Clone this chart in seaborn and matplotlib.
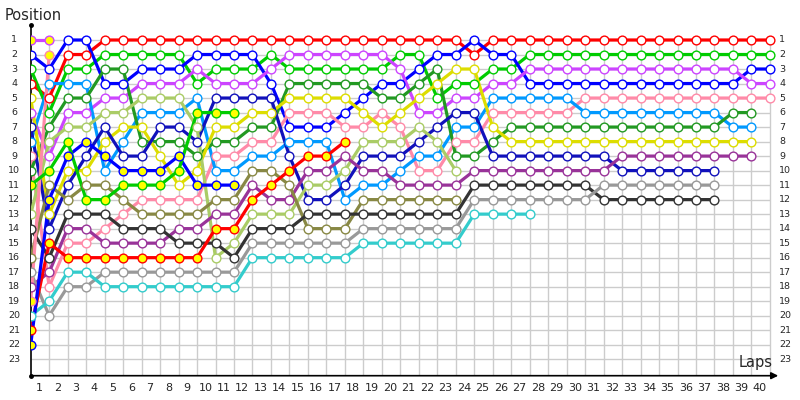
import matplotlib
matplotlib.use('Agg')
import matplotlib.pyplot as plt
import seaborn as sns
import pandas as pd

# positions per lap, index 0 = start
red = [4, 5, 2, 2] + [1] * 20 + [2] + [1] * 16
green = [3, 6, 3, 3, 2, 2, 2, 2, 2, 4, 3, 3, 3, 2, 3, 3, 3, 3, 3, 3, 2, 2, 5, 4, 4, 3, 3] + [2] * 14
blue = [2, 3, 1, 1, 4, 4, 3, 3, 3, 2, 2, 2, 2, 4, 7, 7, 7, 6, 5, 4, 4, 3, 2, 2, 1, 2, 2] + [4] * 12 + [3, 3]
violet = [6, 9, 6, 6, 5, 5, 4, 4, 4, 3, 4, 4, 4, 3, 2, 2, 2, 2, 2, 2, 3, 6, 6, 5, 5, 4, 4] + [3] * 12 + [4, 4]
pink = [9, 18, 15, 15, 14, 13, 12, 12, 12, 12, 9, 9, 8, 8, 6, 6, 6, 7, 7, 6, 7, 10, 10, 8, 8, 6, 6, 6, 6, 6] + [5] * 11
lblue = [8, 4, 4, 4, 10, 8, 6, 6, 6, 5, 10, 10, 9, 9, 8, 8, 8, 12, 11, 11, 10, 9, 9, 7, 7, 5, 5, 5, 5, 5] + [6] * 8 + [7, 7]
dgreen = [10, 7, 5, 5, 3, 3, 8, 8, 8, 9, 8, 8, 7, 7, 4, 4, 4, 4, 4, 5, 5, 4, 3, 9, 9, 8] + [7] * 12 + [6, 6]
yellow = [5, 13, 10, 10, 8, 7, 7, 9, 11, 10, 7, 7, 6, 6, 5, 5, 5, 5, 6, 7, 6, 5, 4, 3, 3, 7] + [8] * 14
indigo = [7, 14, 11, 9, 7, 9, 9, 7, 7, 8, 5, 5, 5, 5, 9, 12, 12, 11, 9, 9, 9, 8, 7, 6, 6] + [9] * 7 + [10] * 6
lgreen = [13, 8, 7, 7, 6, 6, 5, 5, 5, 7, 16, 15, 13, 13, 13, 11, 11, 10, 8, 8, 8, 7, 8, 10]
purple = [18, 17, 14, 14, 15, 15, 15, 15, 14, 14, 13, 13, 11, 12, 12, 10, 10, 9, 10, 10, 11, 11, 11, 11] + [10] * 8 + [9] * 8
olive = [16, 11, 12, 11, 11, 12, 13, 13, 13, 13, 12, 12, 10, 10, 11, 14, 14, 14, 12, 12, 12, 12, 12, 12]
dgray = [14, 16, 13, 13, 13, 14, 14, 14, 15, 15, 15, 16, 14, 14, 14] + [13] * 9 + [11] * 7 + [12] * 7
gray = [17, 20, 18, 18] + [17] * 8 + [15] * 6 + [14] * 6 + [12] * 7 + [11] * 7
teal = [20, 19, 17, 17] + [18] * 8 + [16] * 6 + [15] * 6 + [13] * 4
violet_y = [1, 1]
pink_y = [19, 2]
red_y = [21, 15, 16, 16, 16, 16, 16, 16, 16, 16, 14, 14, 12, 11, 10, 9, 9, 8]
blue_y = [22, 12, 9, 8, 9, 10, 10, 10, 9, 11, 11, 11]
green_y = [11, 10, 8, 12, 12, 11, 11, 11, 10, 6, 6, 6]

drivers = {
    'red': (red, '#ff0000', 'white'),
    'green': (green, '#00cc00', 'white'),
    'blue': (blue, '#0000ff', 'white'),
    'violet': (violet, '#cc44ff', 'white'),
    'pink': (pink, '#ff8aa8', 'white'),
    'lblue': (lblue, '#0099ff', 'white'),
    'dgreen': (dgreen, '#229922', 'white'),
    'yellow': (yellow, '#dddd00', 'white'),
    'indigo': (indigo, '#1111bb', 'white'),
    'lgreen': (lgreen, '#aacc66', 'white'),
    'purple': (purple, '#993399', 'white'),
    'olive': (olive, '#888844', 'white'),
    'dgray': (dgray, '#333333', 'white'),
    'gray': (gray, '#999999', 'white'),
    'teal': (teal, '#33cccc', 'white'),
    'violet_y': (violet_y, '#cc44ff', '#ffff00'),
    'pink_y': (pink_y, '#ff8aa8', '#ffff00'),
    'red_y': (red_y, '#ff0000', '#ffff00'),
    'blue_y': (blue_y, '#0000ff', '#ffff00'),
    'green_y': (green_y, '#00cc00', '#ffff00'),
}

n_laps = 40
n_pos = 23

rows = []
for name, (pos, col, fill) in drivers.items():
    for lap, p in enumerate(pos):
        rows.append({'driver': name, 'lap': lap, 'pos': p})
df = pd.DataFrame(rows)

sns.set_style('white')
plt.rcParams['font.family'] = ['DejaVu Sans']

fig = plt.figure(figsize=(8, 4), dpi=100)
# lap 0 at x=30.7px, 18.48 px per lap; pos 1 at y=40px, 14.51 px per position
ax = fig.add_axes([30.7 / 800, (400 - 375.7) / 400, (18.48 * 41.0) / 800, 355.7 / 400])
ax.set_xlim(0, 41.0)
ybot = 1 + (375.7 - 40) / 14.51
ax.set_ylim(ybot, ybot - 355.7 / 14.51)
for s in ax.spines.values():
    s.set_visible(False)
ax.set_xticks([])
ax.set_yticks([])

# grid
ax.hlines(range(1, n_pos + 1), 0, n_laps, color='#cccccc', lw=1, zorder=0)
ax.vlines(range(1, n_laps + 1), 1, ybot, color='#cccccc', lw=1, zorder=0)

# axes lines
ax.plot([0, 0], [ybot, 0.0], color='black', lw=1.2, zorder=1, clip_on=False)
ax.plot([0], [0.0], marker='o', ms=2.5, color='black', clip_on=False)
ax.plot([0], [ybot], marker='o', ms=2.5, color='black', clip_on=False)
ax.annotate('', xy=(40.45, ybot), xytext=(0, ybot),
            arrowprops=dict(arrowstyle='-|>', color='black', lw=1.2,
                            mutation_scale=10, shrinkA=0, shrinkB=0),
            annotation_clip=False)

for name, (pos, col, fill) in drivers.items():
    sub = df[df['driver'] == name]
    sns.lineplot(data=sub, x='lap', y='pos', color=col, lw=2.3, sort=False,
                 estimator=None, ax=ax, zorder=2, legend=False)
for name, (pos, col, fill) in drivers.items():
    sub = df[df['driver'] == name]
    sns.lineplot(data=sub, x='lap', y='pos', color=col, lw=0, marker='o',
                 markersize=6.3, markerfacecolor=fill, markeredgecolor=col,
                 markeredgewidth=1.0, sort=False, estimator=None, ax=ax,
                 zorder=3, legend=False)
ax.set_xlabel('')
ax.set_ylabel('')

for p in range(1, n_pos + 1):
    ax.text(-0.9, p, str(p), ha='center', va='center', fontsize=6.8)
    ax.text(40.5, p, str(p), ha='left', va='center', fontsize=6.8)
for lap in range(1, n_laps + 1):
    ax.text(lap - 0.55, ybot + 0.85, str(lap), ha='center', va='center', fontsize=8)

fig.text(5 / 800, 1 - 15 / 400, 'Position', ha='left', va='center', fontsize=10.5)
fig.text(773 / 800, 1 - 363 / 400, 'Laps', ha='right', va='center', fontsize=10.5)

fig.savefig('out.png', dpi=100)
